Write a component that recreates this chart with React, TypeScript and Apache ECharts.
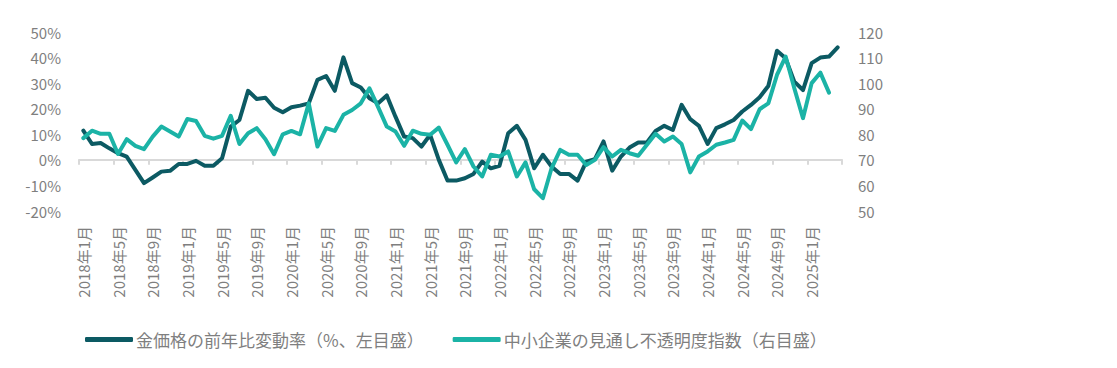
import React, { useEffect, useRef } from "react";
import * as echarts from "echarts";

const startYear = 2018;
const monthCount = 88;
const categories: string[] = Array.from({ length: monthCount }, (_, i) => {
  const y = startYear + Math.floor(i / 12);
  const m = (i % 12) + 1;
  return `${y}年${m}月`;
});

const goldYoY: number[] = [
  11.4, 6.2, 6.6, 4.5, 2.6, 1.3, -3.9, -9.1, -6.9, -4.6, -4.3, -1.6,
  -1.6, -0.4, -2.3, -2.3, 0.6, 13, 15.6, 27, 23.8, 24.3, 20.4, 18.6,
  20.6, 21.2, 22.1, 31.3, 32.8, 27, 40.1, 30, 28.3, 24.1, 22.1, 25.2,
  16.9, 9.1, 8.5, 5.2, 9.8, 0, -8.1, -8.1, -7.2, -5.5, -0.7, -3.3,
  -2.3, 10.4, 13.3, 7.8, -3.3, 2, -2.6, -5.5, -5.5, -8.1, -0.7, 0.3,
  7.2, -4.2, 1.3, 4.8, 6.8, 6.8, 11.3, 13.3, 11.7, 21.5, 15.9, 13.3,
  6.2, 12.4, 13.9, 15.6, 18.9, 21.5, 24.5, 28.9, 42.7, 39.7, 30.6, 27.3,
  37.8, 40, 40.4, 44,
];

const uncertaintyIndex: number[] = [
  78.5, 81.4, 80.2, 80.2, 72.3, 78.1, 75.5, 74.2, 79.1, 83, 81.1, 79.1,
  86, 85.2, 79.4, 78.3, 79.4, 87.2, 76.2, 80.4, 82.4, 78.1, 72.2, 80,
  81.3, 80, 92.1, 75.2, 82.4, 81.3, 87.6, 89.5, 92.1, 98, 90.6, 83,
  81.1, 75.5, 81.4, 80.2, 79.8, 82.6, 75.9, 69, 74.2, 67.4, 63.5, 72,
  71.3, 73.3, 63.5, 69, 58.5, 55, 66.7, 73.9, 72, 72, 68, 70,
  75, 71.3, 73.9, 72.6, 71.6, 75.9, 80.2, 77.2, 79.1, 76.2, 65.1, 71.3,
  73.3, 75.9, 76.8, 77.8, 85.4, 82, 89.8, 92.1, 103.2, 110.4, 98, 86.3,
  100, 104.1, 96.3,
];

const seriesNames = ["金価格の前年比変動率（%、左目盛）", "中小企業の見通し不透明度指数（右目盛）"];
const colorGold = "#0c5a63";
const colorTeal = "#1bb3a6";
const labelColor = "#7f7f7f";
const fontFamily = "'Noto Sans CJK JP', 'Noto Sans', sans-serif";

export default function App() {
  const ref = useRef<HTMLDivElement>(null);
  useEffect(() => {
    document.body.style.margin = "0";
    if (!ref.current) return;
    const chart = echarts.init(ref.current, undefined, { renderer: "svg" });
    chart.setOption({
      animation: false,
      grid: { left: 79, top: 32, width: 763, height: 179 },
      legend: {
        left: 80,
        top: 326,
        itemWidth: 48,
        itemHeight: 5,
        itemGap: 29,
        icon: "roundRect",
        textStyle: { color: labelColor, fontSize: 17, fontFamily, padding: [0, 0, 0, -2] },
        data: seriesNames,
      },
      xAxis: [
        {
          type: "category",
          data: categories,
          position: "bottom",
          boundaryGap: true,
          axisLine: { show: false, onZero: false },
          axisTick: { show: false },
          axisLabel: {
            interval: 3,
            rotate: 90,
            margin: 15,
            color: labelColor,
            fontSize: 15,
            fontFamily,
          },
        },
        {
          type: "category",
          data: categories,
          position: "bottom",
          boundaryGap: true,
          axisLine: {
            show: true,
            onZero: true,
            onZeroAxisIndex: 0,
            lineStyle: { color: "#d9d9d9", width: 2 },
          },
          axisTick: {
            show: true,
            interval: 3,
            length: 5,
            lineStyle: { color: "#d9d9d9", width: 2 },
          },
          axisLabel: { show: false },
        },
      ],
      yAxis: [
        {
          type: "value",
          min: -20,
          max: 50,
          interval: 10,
          axisLine: { show: false },
          axisTick: { show: false },
          splitLine: { show: false },
          axisLabel: {
            formatter: "{value}%",
            color: labelColor,
            fontSize: 15,
            margin: 18,
            fontFamily,
          },
        },
        {
          type: "value",
          min: 50,
          max: 120,
          interval: 10,
          position: "right",
          axisLine: { show: false },
          axisTick: { show: false },
          splitLine: { show: false },
          axisLabel: {
            color: labelColor,
            fontSize: 15,
            margin: 16,
            fontFamily,
          },
        },
      ],
      series: [
        {
          name: seriesNames[0],
          type: "line",
          data: goldYoY,
          xAxisIndex: 0,
          yAxisIndex: 0,
          showSymbol: false,
          symbol: "none",
          color: colorGold,
          lineStyle: { color: colorGold, width: 4, join: "round", cap: "round" },
        },
        {
          name: seriesNames[1],
          type: "line",
          data: uncertaintyIndex,
          xAxisIndex: 0,
          yAxisIndex: 1,
          showSymbol: false,
          symbol: "none",
          color: colorTeal,
          lineStyle: { color: colorTeal, width: 4, join: "round", cap: "round" },
        },
      ],
    });
    return () => chart.dispose();
  }, []);
  return <div ref={ref} style={{ width: 1117, height: 368 }} />;
}
